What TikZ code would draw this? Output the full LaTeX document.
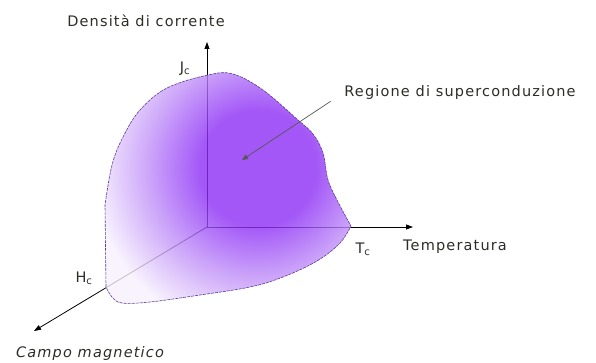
\documentclass[tikz,border=0pt]{standalone}
\usepackage{fontspec}
\setmainfont{DejaVu Sans}[LetterSpace=8]
\usetikzlibrary{arrows.meta,calc}

\definecolor{viola}{RGB}{140,45,245}
\definecolor{violamedio}{RGB}{190,140,248}
\definecolor{violachiaro}{RGB}{246,240,253}
\definecolor{bordo}{RGB}{95,60,150}
\definecolor{testo}{RGB}{45,45,40}

\pgfdeclareradialshading{superc}{\pgfpoint{0bp}{0bp}}{%
  color(0bp)=(viola); color(8bp)=(viola); color(15bp)=(violamedio);
  color(23bp)=(violachiaro); color(50bp)=(violachiaro)}

\tikzset{
  asse/.style={line width=0.8pt, -{Triangle[length=7pt,width=5pt]}},
  etichetta/.style={text=testo, font=\fontsize{14.5}{16}\selectfont, inner sep=1pt},
  bordo blob/.style={bordo, line width=0.6pt, dash pattern=on 3pt off 1pt}
}

% contorno della regione superconduttiva
\newcommand{\blobpath}{%
  (106,287) -- (105,205)
  -- plot[smooth, tension=0.6] coordinates {(105,205) (112,165) (123,137) (140,110) (167,88)
    (208,75) (233,74) (263,90) (298,120) (313,134) (323,153) (328,180) (338,202) (351,226)}
  -- plot[smooth, tension=0.6] coordinates {(351,226) (340,243) (317,261) (283,277) (250,287)
    (200,295) (150,302) (122,303) (112,297) (106,287)}
  -- cycle}

\begin{document}
\begin{tikzpicture}[x=1pt, y=-1pt]
  \useasboundingbox (0,0) rectangle (596,363);

  % assi
  \coordinate (O) at (207,227);
  \coordinate (Jtip) at (207,42);
  \coordinate (Ttip) at (413,227);
  \coordinate (Htip) at (34,331);
  \draw[asse] (O) -- (Jtip);
  \draw[asse] (O) -- (Ttip);
  \draw[asse] (O) -- (Htip);

  % regione di superconduzione (sfumata)
  \begin{scope}[opacity=0.8, transparency group]
    \clip \blobpath;
    \fill[violachiaro] (90,60) rectangle (360,310);
    \shade[shading=superc] (258,168) circle (180);
  \end{scope}
  \draw[bordo blob] \blobpath;

  % etichette
  \node[etichetta] (dens) at (146,21) {Densità di corrente};
  \node[etichetta] (jc) at (185,69) {J\textsubscript{c}};
  \node[etichetta] (reg) at (460,93) {Regione di superconduzione};
  \node[etichetta] (temp) at (455,247) {Temperatura};
  \node[etichetta] (tc) at (363,249) {T\textsubscript{c}};
  \node[etichetta] (hc) at (84,278) {H\textsubscript{c}};
  \node[etichetta, font=\fontsize{14.5}{16}\selectfont\itshape] (campo) at (90,353) {Campo magnetico};

  \coordinate (dentro) at (242,160);
  \draw[line width=0.7pt, color=testo!80, shorten <=15pt, -{Triangle[length=6pt,width=5pt]}] (reg.west) -- (dentro);
\end{tikzpicture}
\end{document}
